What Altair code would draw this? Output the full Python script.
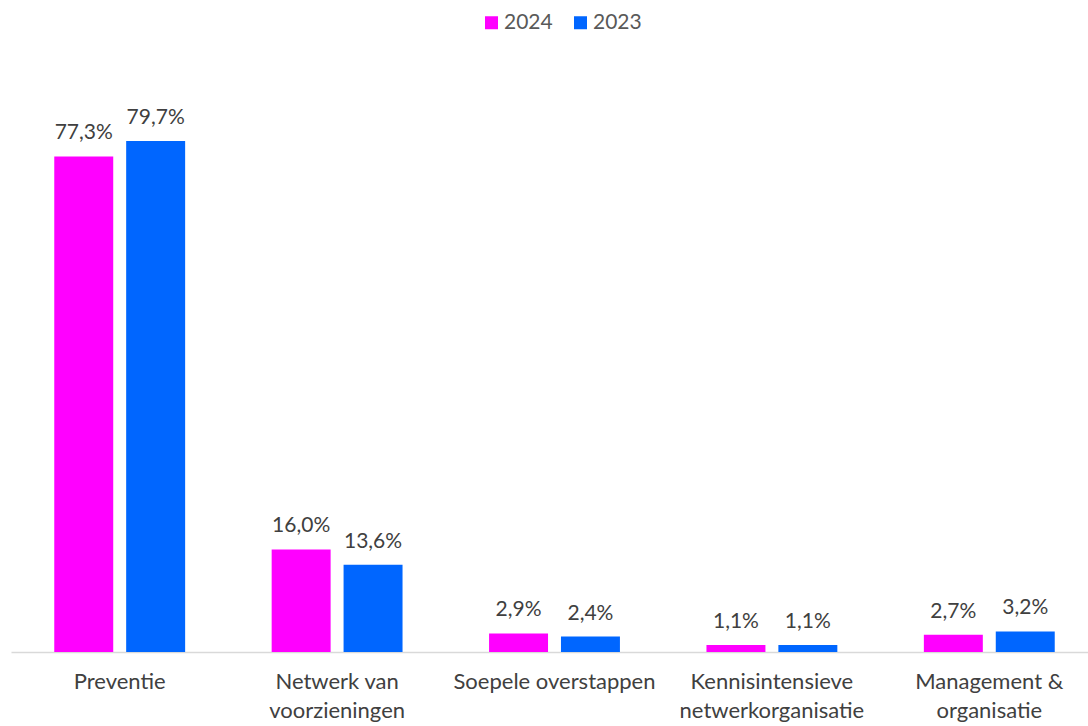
import altair as alt
import pandas as pd

categories = ["Preventie", "Netwerk van\nvoorzieningen", "Soepele overstappen",
              "Kennisintensieve\nnetwerkorganisatie", "Management &\norganisatie"]
series = ["2024", "2023"]
values_2024 = [77.3, 16.0, 2.9, 1.1, 2.7]
values_2023 = [79.7, 13.6, 2.4, 1.1, 3.2]
colors = ["#FF00FF", "#0066FF"]

rows = []
for c, v in zip(categories, values_2024):
    rows.append({"category": c, "series": "2024", "value": v})
for c, v in zip(categories, values_2023):
    rows.append({"category": c, "series": "2023", "value": v})
df = pd.DataFrame(rows)
df["label"] = df["value"].map(lambda v: f"{v:.1f}".replace(".", ",") + "%")

x = alt.X("category:N", sort=categories, title=None,
          scale=alt.Scale(range=[0, 1087], paddingInner=0.398, paddingOuter=0.199),
          axis=alt.Axis(labelExpr="split(datum.label, '\\n')", labelAngle=0,
                        labelFont="Lato", labelFontSize=22, labelColor="#404040",
                        labelPadding=19, labelLineHeight=29, labelLimit=0, ticks=False,
                        domainColor="#D9D9D9", domainWidth=1.5, grid=False))
xo = alt.XOffset("series:N", sort=series,
                 scale=alt.Scale(paddingInner=0.18, paddingOuter=0))
y = alt.Y("value:Q", scale=alt.Scale(domain=[0, 92.35], nice=False, zero=True), axis=None)

bars = alt.Chart(df).mark_bar().encode(
    x=x, xOffset=xo, y=y,
    color=alt.Color("series:N", sort=series,
                    scale=alt.Scale(domain=series, range=colors),
                    legend=alt.Legend(title=None, orient="none", direction="horizontal",
                                      legendX=470, legendY=-48,
                                      symbolType="square", symbolSize=169,
                                      symbolStrokeWidth=0, labelFont="Lato",
                                      labelFontSize=21, labelColor="#595959",
                                      labelOffset=2, columnPadding=17)),
)

text = alt.Chart(df).mark_text(dy=-17, baseline="alphabetic", fontSize=21,
                               font="Lato", color="#404040").encode(
    x=x, xOffset=xo, y=y, text="label:N")

chart = (bars + text).properties(
    width=1077, height=592,
    autosize=alt.AutoSizeParams(type="none"),
    padding={"left": 11, "top": 60, "right": 0, "bottom": 74},
    background="white",
).configure_view(stroke=None)

chart.save("out.html", embed_options={"renderer": "svg", "actions": False})
